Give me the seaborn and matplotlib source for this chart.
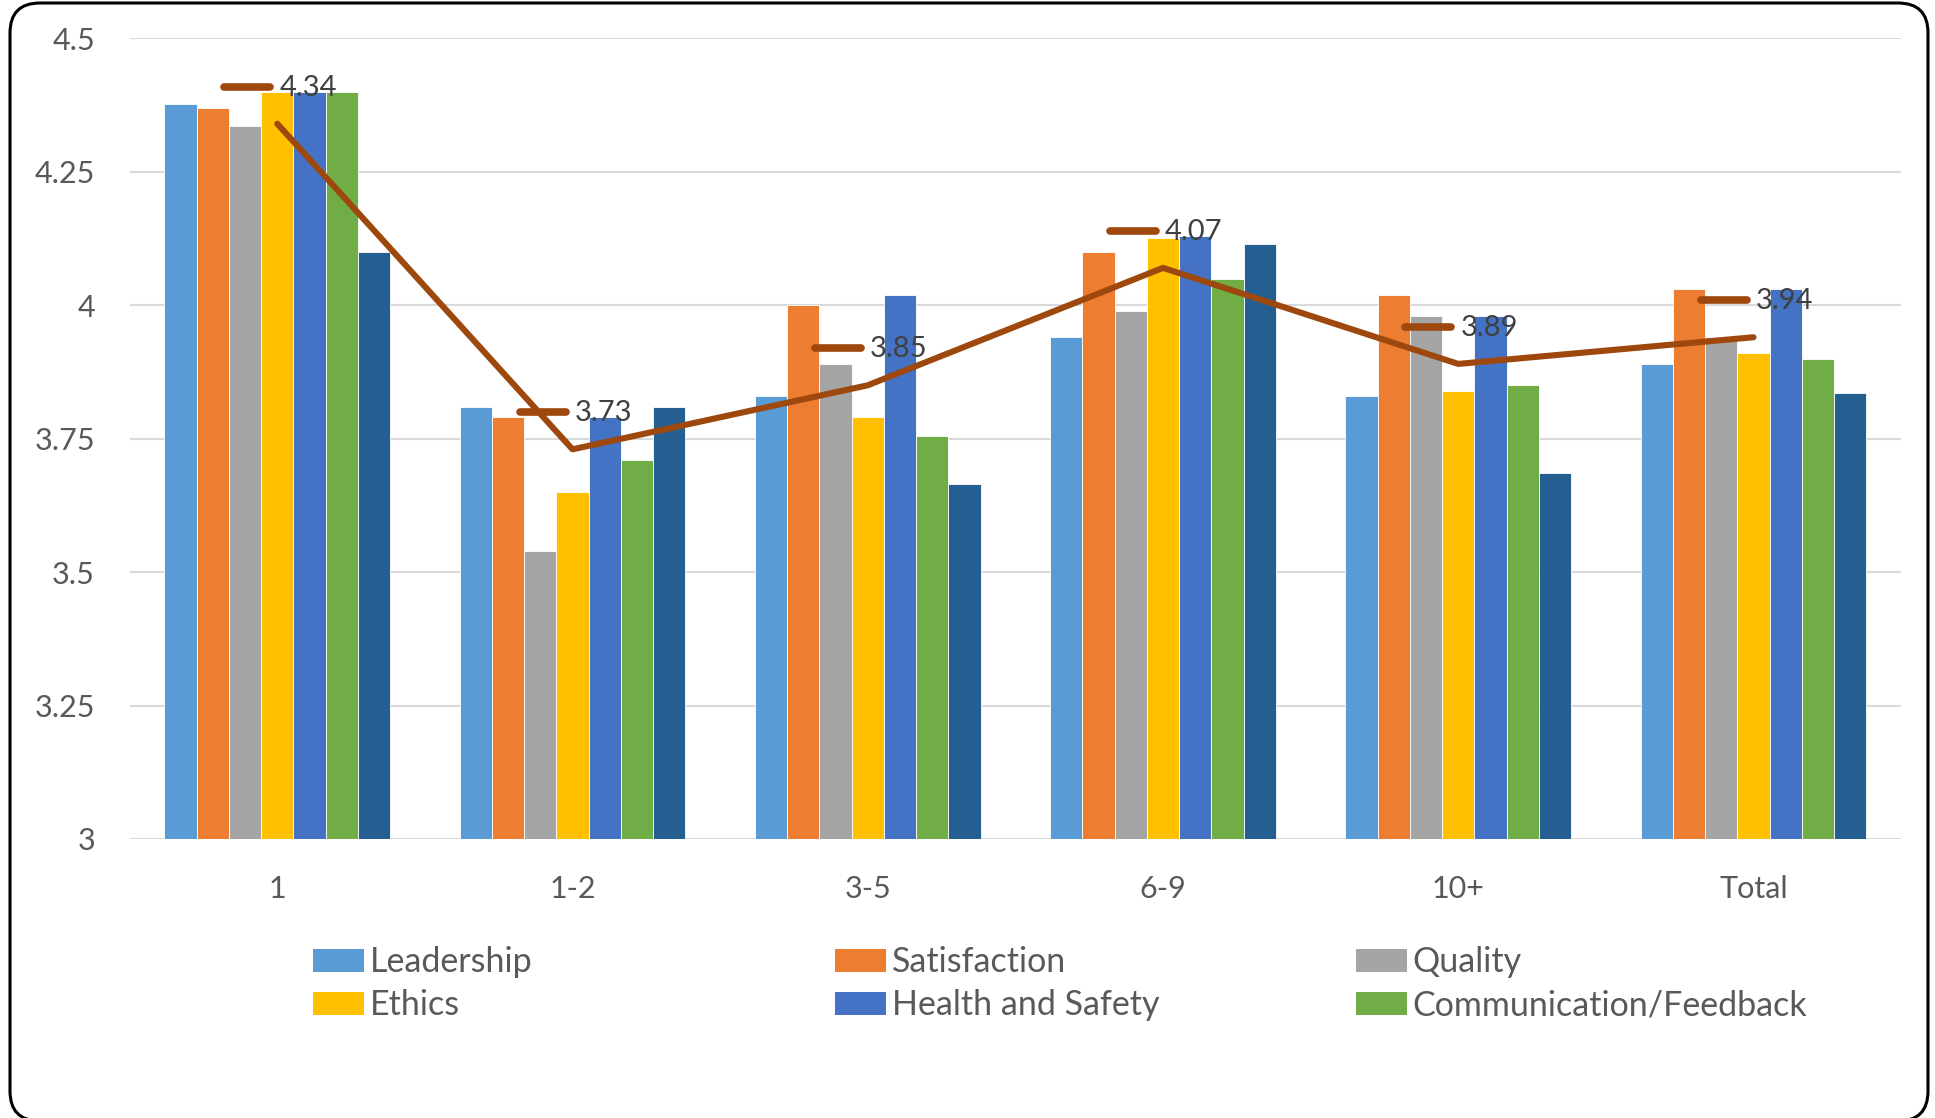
import numpy as np
import pandas as pd
import matplotlib
matplotlib.use('Agg')
import matplotlib.pyplot as plt
import seaborn as sns
from matplotlib.patches import Patch, FancyBboxPatch
from matplotlib.markers import MarkerStyle
from matplotlib.transforms import offset_copy

# data
groups = ['1', '1-2', '3-5', '6-9', '10+', 'Total']
series = ['Leadership', 'Satisfaction', 'Quality', 'Ethics',
          'Health and Safety', 'Communication/Feedback', 'Other']

leadership = [4.377, 3.81, 3.83, 3.94, 3.83, 3.89]
satisfaction = [4.37, 3.79, 4.00, 4.10, 4.02, 4.03]
quality = [4.335, 3.54, 3.89, 3.99, 3.98, 3.94]
ethics = [4.40, 3.65, 3.79, 4.125, 3.84, 3.91]
health_safety = [4.40, 3.79, 4.02, 4.13, 3.98, 4.03]
communication = [4.40, 3.71, 3.755, 4.05, 3.85, 3.90]
other = [4.10, 3.81, 3.665, 4.115, 3.685, 3.835]
average = [4.34, 3.73, 3.85, 4.07, 3.89, 3.94]

colors = ['#5B9BD5', '#ED7D31', '#A5A5A5', '#FFC000', '#4472C4', '#70AD47', '#255E91']
line_color = '#9E480E'

all_values = [leadership, satisfaction, quality, ethics, health_safety, communication, other]
rows = []
for name, vals in zip(series, all_values):
    for g, v in zip(groups, vals):
        rows.append({'group': g, 'series': name, 'score': v})
df = pd.DataFrame(rows)

sns.set_style('white')
plt.rcParams['font.family'] = ['Lato', 'DejaVu Sans']

fig = plt.figure(figsize=(19.35, 11.18), dpi=100)
ax = fig.add_axes([0.067, 0.2496, 0.9155, 0.7161])

sns.barplot(data=df, x='group', y='score', hue='series', order=groups, hue_order=series,
            palette=colors, saturation=1, width=0.765, gap=0, edgecolor='white',
            linewidth=0.6, legend=False, ax=ax, zorder=3)

# average line
sns.lineplot(x=np.arange(len(groups)), y=average, color=line_color, linewidth=4.4,
             legend=False, ax=ax, zorder=5)

# data labels with legend key
key = MarkerStyle('_', capstyle='round')
for i, v in enumerate(average):
    tr = offset_copy(ax.transData, fig=fig, x=-21.6, y=26.6, units='points')
    ax.plot(i, v, marker=key, markersize=33, mew=5.5, color=line_color,
            transform=tr, zorder=6, clip_on=False)
    ax.annotate(f'{v:.2f}', (i, v), xytext=(1.5, 25.8), textcoords='offset points',
                ha='left', va='center', fontsize=21, color='#404040', zorder=7)

ax.set_ylim(3, 4.5)
ax.set_xlim(-0.5, len(groups) - 0.5)
ax.set_yticks(np.arange(3, 4.51, 0.25))
ax.set_yticklabels([f'{t:g}' for t in np.arange(3, 4.51, 0.25)])
ax.grid(axis='y', color='#D9D9D9', linewidth=1.5, zorder=0)
ax.set_axisbelow(True)
for s in ax.spines.values():
    s.set_visible(False)
ax.tick_params(axis='both', length=0, labelsize=22, labelcolor='#595959')
ax.tick_params(axis='y', pad=25)
ax.tick_params(axis='x', pad=26)
ax.set_xlabel('')
ax.set_ylabel('')

# legend, three columns
legend_cols = [[0, 3], [1, 4], [2, 5]]
col_x = [313, 835, 1356]
for cx, idx in zip(col_x, legend_cols):
    handles = [Patch(facecolor=colors[k], edgecolor='none') for k in idx]
    labels = [series[k] for k in idx]
    fig.legend(handles, labels, loc='upper left', bbox_to_anchor=(cx / 1935, 1 - 946 / 1118),
               frameon=False, fontsize=24.5, handlelength=1.5, handleheight=0.66,
               handletextpad=0.17, labelspacing=0.33, borderpad=0, borderaxespad=0,
               labelcolor='#595959')

# rounded chart frame
frame = FancyBboxPatch((0.10, -0.03), 19.18, 11.18, boxstyle='round,pad=0,rounding_size=0.3',
                       transform=fig.dpi_scale_trans, facecolor='none', edgecolor='black',
                       linewidth=2.2)
fig.patches.append(frame)

fig.savefig('out.png', dpi=100)
